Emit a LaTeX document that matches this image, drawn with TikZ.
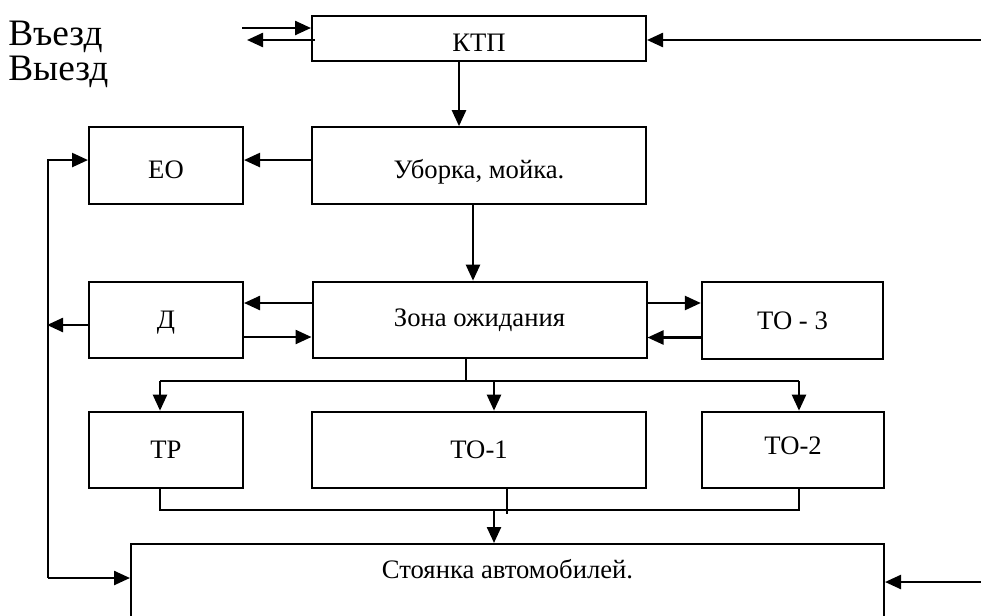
\documentclass[tikz,border=0pt]{standalone}
\usepackage{fontspec}
\setmainfont{Liberation Serif}
\usetikzlibrary{arrows.meta, calc}

\begin{document}
\begin{tikzpicture}[
  x=0.75pt, y=-0.75pt,
  blk/.style={rectangle, draw=black, line width=1.5pt, fill=white,
    inner sep=0pt, font=\fontsize{20}{24}\selectfont,
    text height=13.2pt, text depth=0pt},
  wide/.style={minimum width=250.5pt, minimum height=57.5pt},
  narrow/.style={minimum width=115.5pt, minimum height=57.5pt},
  mid/.style={minimum width=136pt, minimum height=57.5pt},
  arr/.style={-{Triangle[length=12pt, width=10.5pt]}, line width=1.8pt},
  bus/.style={line width=1.1pt},
  side/.style={font=\fontsize{28}{34}\selectfont, anchor=base west, inner sep=0pt}
]
  \clip (0,0) rectangle (981,615);

  \node[side] (inlbl) at (8,45) {Въезд};
  \node[side] (outlbl) at (8,80) {Выезд};

  \node[blk, wide, minimum height=33.75pt, text height=20pt] (ktp) at (479,38.5) {КТП};
  \node[blk, wide, text height=20pt] (wash) at (479,165.5) {Уборка, мойка.};
  \node[blk, narrow, text height=19pt] (eo) at (166,165.5) {ЕО};
  \node[blk, narrow] (d) at (166,320) {Д};
  \node[blk, wide, text depth=4pt] (wait) at (479.5,320) {Зона ожидания};
  \node[blk, mid] (to3) at (792.5,320.5) {ТО - 3};
  \node[blk, narrow] (tr) at (166,450) {ТР};
  \node[blk, wide] (to1) at (479,450) {ТО-1};
  \node[blk, mid, text depth=7pt] (to2) at (793,450) {ТО-2};
  \node[blk, anchor=north, minimum width=564.75pt, minimum height=82.5pt,
    label={[anchor=north, yshift=-9pt, font=\fontsize{20}{24}\selectfont]north:Стоянка автомобилей.}]
    (park) at (507.5,543) {};

  % entry and exit
  \coordinate (inA) at (242,28);
  \coordinate (outA) at (247,40);
  \coordinate (inR) at (981,40);
  \draw[arr] (inA) -- (inA -| ktp.west);
  \draw[arr] ([xshift=3pt]ktp.west |- outA) -- (outA);
  \draw[arr] (inR) -- (inR -| ktp.east);
  \draw[arr] ([xshift=-15pt]ktp.south) -- ([xshift=-15pt]wash.north);

  \draw[arr] ([yshift=4.1pt]wash.west) -- ([yshift=4.1pt]eo.east);
  \draw[arr] ([xshift=-4.5pt]wash.south) -- ([xshift=-4.5pt]wash.south |- wait.north);

  % left return line
  \coordinate (rail) at (48,578);
  \draw[arr] (rail) |- ([yshift=4.1pt]eo.west);
  \draw[arr] (rail) -- (rail -| park.west);
  \draw[arr] ([yshift=-3.75pt]d.west) -- ++(-41,0);

  \draw[arr] ([yshift=12.75pt]wait.west) -- ([yshift=12.75pt]d.east);
  \draw[arr] ([yshift=-12.75pt]d.east) -- ([yshift=-12.75pt]wait.west);
  \draw[arr] ([yshift=12.75pt]wait.east) -- ([yshift=12.75pt]wait.east -| to3.west);
  \draw[arr] ([yshift=-12.75pt]to3.west) -- ([yshift=-12.75pt]to3.west -| wait.east);

  % fork below the waiting zone
  \coordinate (fork) at (466,381);
  \coordinate (trin) at ([xshift=-4.5pt]tr.north);
  \coordinate (to1in) at ([xshift=11.25pt]to1.north);
  \coordinate (to2in) at ([xshift=4.5pt]to2.north);
  \draw[bus] (wait.south -| fork) -- (fork);
  \draw[bus] (trin |- fork) -- (to2in |- fork);
  \foreach \t in {trin, to1in, to2in}
    \draw[arr] (\t |- fork) -- (\t);

  % collector to the parking
  \coordinate (join) at (494,510);
  \draw[bus] (trin |- tr.south) -- (trin |- join) -- (to2in |- join) -- (to2in |- to2.south);
  \draw[bus] ([xshift=21pt]to1.south) -- ++(0,25);
  \draw[arr] (join) -- (join |- park.north);

  \coordinate (inP) at (981,582);
  \draw[arr] (inP) -- (inP -| park.east);
\end{tikzpicture}
\end{document}
